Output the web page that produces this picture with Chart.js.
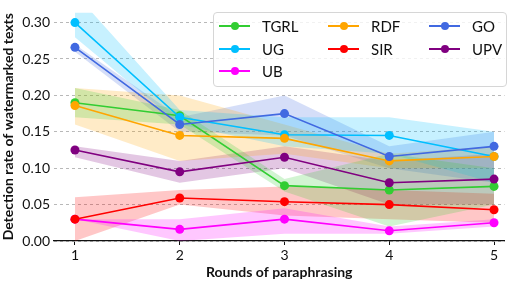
<!DOCTYPE html>
<html>
<head>
<meta charset="utf-8">
<script src="https://cdn.jsdelivr.net/npm/chart.js@4"></script>
<style>
  body { margin:0; background:#fff; }
  #wrap { position:relative; width:509px; height:281px; font-family:Lato, "Open Sans", sans-serif; }
  #legend { position:absolute; left:213px; top:12px; width:294px; height:75px; box-sizing:border-box;
    background:rgba(255,255,255,0.8); border:1px solid #d6d6d6; border-radius:4px; }
  .item { position:absolute; height:20px; font-size:15px; color:#111; line-height:20px; }
  .item .ln { position:absolute; top:9px; height:2px; width:31px; left:0; }
  .item .dot { position:absolute; top:6px; left:12px; width:8px; height:8px; border-radius:50%; }
  .item span { position:absolute; left:43px; top:0; white-space:nowrap; }
</style>
</head>
<body>
<div id="wrap">
  <canvas id="chart" width="509" height="281"></canvas>
  <div id="legend"></div>
</div>
<script>
var rounds = [1, 2, 3, 4, 5];
var yTicks = [0, 0.05, 0.10, 0.15, 0.20, 0.25, 0.30];

var names  = ['TGRL', 'UG', 'UB', 'RDF', 'SIR', 'GO', 'UPV'];
var colors = ['#32cd32', '#00bfff', '#ff00ff', '#ffa500', '#ff0000', '#4169e1', '#800080'];

var tgrl = [0.19, 0.172, 0.076, 0.07, 0.075];
var ug   = [0.30, 0.17, 0.146, 0.145, 0.116];
var ub   = [0.03, 0.016, 0.03, 0.014, 0.025];
var rdf  = [0.186, 0.145, 0.141, 0.11, 0.116];
var sir  = [0.03, 0.059, 0.054, 0.05, 0.043];
var go   = [0.266, 0.16, 0.175, 0.116, 0.13];
var upv  = [0.125, 0.095, 0.115, 0.08, 0.085];

var tgrlLow = [0.17, 0.16, 0.068, 0.02, 0.05],   tgrlHigh = [0.21, 0.18, 0.085, 0.12, 0.10];
var ugLow   = [0.28, 0.16, 0.13, 0.12, 0.08],    ugHigh   = [0.34, 0.18, 0.17, 0.17, 0.15];
var ubLow   = [0.03, 0.0, 0.01, 0.01, 0.02],     ubHigh   = [0.03, 0.03, 0.045, 0.02, 0.03];
var rdfLow  = [0.16, 0.11, 0.12, 0.10, 0.10],    rdfHigh  = [0.21, 0.20, 0.16, 0.12, 0.13];
var sirLow  = [0.0, 0.05, 0.035, 0.03, 0.025],   sirHigh  = [0.06, 0.07, 0.075, 0.07, 0.065];
var goLow   = [0.26, 0.15, 0.145, 0.10, 0.08],   goHigh   = [0.27, 0.17, 0.20, 0.13, 0.15];
var upvLow  = [0.115, 0.08, 0.10, 0.05, 0.05],   upvHigh  = [0.13, 0.11, 0.13, 0.11, 0.12];

var means = [tgrl, ug, ub, rdf, sir, go, upv];
var lows  = [tgrlLow, ugLow, ubLow, rdfLow, sirLow, goLow, upvLow];
var highs = [tgrlHigh, ugHigh, ubHigh, rdfHigh, sirHigh, goHigh, upvHigh];

function pts(arr){
  return arr.map(function(v, i){ return {x: rounds[i], y: v}; });
}
function alpha(hex, a){
  var r = parseInt(hex.substr(1,2),16), g = parseInt(hex.substr(3,2),16), b = parseInt(hex.substr(5,2),16);
  return 'rgba('+r+','+g+','+b+','+a+')';
}

var datasets = [];
// bands first
for (let i = 0; i < names.length; i++) {
  datasets.push({ label: names[i]+'_lo', data: pts(lows[i]), borderWidth: 0, pointRadius: 0, fill: false, order: 100 });
  datasets.push({ label: names[i]+'_hi', data: pts(highs[i]), borderWidth: 0, pointRadius: 0,
    fill: '-1', backgroundColor: alpha(colors[i], 0.22), order: 100 });
}
// lines on top, later series drawn over earlier ones
for (let i = 0; i < names.length; i++) {
  datasets.push({ label: names[i], data: pts(means[i]), borderColor: colors[i], backgroundColor: colors[i],
    borderWidth: 1.6, pointRadius: 4.5, pointBorderWidth: 0, fill: false, order: 50 - i });
}

var font = { family: 'Lato, "Open Sans", sans-serif', size: 14 };

new Chart(document.getElementById('chart'), {
  type: 'line',
  data: { datasets: datasets },
  options: {
    responsive: false,
    animation: false,
    layout: { padding: { top: 2, right: 0, left: 0, bottom: 0 } },
    plugins: {
      legend: { display: false },
      tooltip: { enabled: false },
      filler: { drawTime: 'beforeDatasetsDraw' }
    },
    scales: {
      x: {
        type: 'linear', min: 0.8, max: 5.1,
        afterBuildTicks: function(s){ s.ticks = rounds.map(function(v){ return {value: v}; }); },
        afterFit: function(s){ s.height = 40; },
        ticks: { font: font, color: '#111', padding: 2, callback: function(v){ return v; } },
        grid: { drawOnChartArea: false, drawTicks: true, tickLength: 4, tickColor: '#111', color: '#111' },
        border: { color: '#111', width: 1.2 },
        title: { display: true, text: 'Rounds of paraphrasing', font: { family: font.family, size: 14, weight: 'bold' }, color: '#111', padding: { top: 0, bottom: 0 } }
      },
      y: {
        min: 0, max: 0.314,
        afterBuildTicks: function(s){ s.ticks = yTicks.map(function(v){ return {value: v}; }); },
        afterFit: function(s){ s.width = 54; },
        ticks: { font: font, color: '#111', padding: 4, callback: function(v){ return v.toFixed(2); } },
        grid: { color: '#b8b8b8', lineWidth: 1, drawTicks: false, tickLength: 0 },
        border: { display: false, dash: [3, 3] },
        title: { display: true, text: 'Detection rate of watermarked texts', font: { family: font.family, size: 14, weight: 'bold' }, color: '#111', padding: { top: 0, bottom: 2 } }
      }
    }
  }
});

// legend, column-major like the original
var legend = document.getElementById('legend');
var cols = [[0, 1, 2], [3, 4], [5, 6]];
var colX = [5, 114, 215];
var rowY = [3, 26, 48];
cols.forEach(function(col, c){
  col.forEach(function(idx, r){
    var d = document.createElement('div');
    d.className = 'item';
    d.style.left = colX[c] + 'px';
    d.style.top = rowY[r] + 'px';
    d.innerHTML = '<div class="ln" style="background:'+colors[idx]+'"></div><div class="dot" style="background:'+colors[idx]+'"></div><span>'+names[idx]+'</span>';
    legend.appendChild(d);
  });
});
</script>
</body>
</html>
